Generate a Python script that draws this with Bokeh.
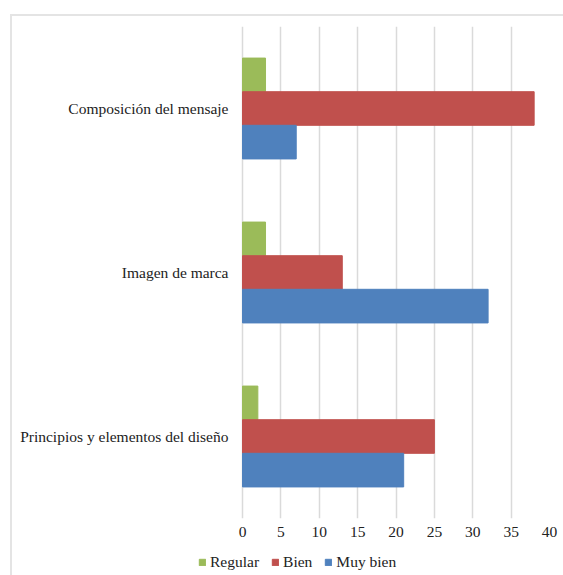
from bokeh.plotting import figure
from bokeh.layouts import column
from bokeh.core.properties import value
from bokeh.models import ColumnDataSource, FactorRange, Range1d, FixedTicker, Legend, LegendItem
from bokeh.transform import dodge
from bokeh.embed import file_html
from bokeh.resources import INLINE

categories = ["Principios y elementos del diseño", "Imagen de marca", "Composición del mensaje"]
regular = [2, 3, 3]
bien = [25, 13, 38]
muy_bien = [21, 32, 7]
series_names = ["Regular", "Bien", "Muy bien"]
x_ticks = [0, 5, 10, 15, 20, 25, 30, 35, 40]

colors = ["#9BBB59", "#C0504D", "#4F81BD"]
FONT = "Liberation Serif"
TXT = "#222222"

# frame spans the whole width; the category label gutter sits left of value 0
FRAME_W = 537
ZERO_PX = 230
x_max = 40
x_min = -ZERO_PX * x_max / (FRAME_W - ZERO_PX)

src = ColumnDataSource(dict(cat=categories, regular=regular, bien=bien, muy_bien=muy_bien,
                            zero=[0] * len(categories)))

p = figure(width=551, height=532, output_backend="svg", toolbar_location=None,
           y_range=FactorRange(factors=categories, range_padding=0),
           x_range=Range1d(x_min, x_max), y_axis_type=None,
           min_border_left=0, min_border_right=14, min_border_top=10, min_border_bottom=30)
p.outline_line_color = None
p.background_fill_color = "white"
p.border_fill_color = "white"

h = 0.205
p.hbar(y=dodge("cat", h, range=p.y_range), right="regular", left=0, height=h, source=src,
       fill_color=colors[0], line_color=colors[0])
p.hbar(y=dodge("cat", 0, range=p.y_range), right="bien", left=0, height=h, source=src,
       fill_color=colors[1], line_color=colors[1])
p.hbar(y=dodge("cat", -h, range=p.y_range), right="muy_bien", left=0, height=h, source=src,
       fill_color=colors[2], line_color=colors[2])

# category labels
p.text(x="zero", y="cat", text="cat", source=src, x_offset=-14,
       text_align="right", text_baseline="middle",
       text_font=value(FONT), text_font_size="15.5px", text_color=TXT)

p.xaxis.ticker = FixedTicker(ticks=x_ticks)
ax = p.xaxis[0]
ax.axis_line_color = None
ax.major_tick_line_color = None
ax.minor_tick_line_color = None
ax.major_tick_out = 0
ax.major_tick_in = 0
ax.major_label_text_font = FONT
ax.major_label_text_font_size = "15.5px"
ax.major_label_text_color = TXT
ax.major_label_standoff = 8
p.xgrid.grid_line_color = "#dadada"
p.xgrid.grid_line_width = 1.5
p.ygrid.grid_line_color = None

# legend strip
lf = figure(width=551, height=27, output_backend="svg", toolbar_location=None,
            x_range=Range1d(0, 1), y_range=Range1d(0, 1),
            x_axis_type=None, y_axis_type=None,
            min_border_left=0, min_border_right=14, min_border_top=0, min_border_bottom=0)
lf.outline_line_color = None
lf.grid.grid_line_color = None
lr = [lf.hbar(y=[-100], right=[0], height=1, fill_color=c, line_color=c) for c in colors]
legend = Legend(items=[LegendItem(label=n, renderers=[r]) for n, r in zip(series_names, lr)],
                orientation="horizontal", location=(186, 4),
                padding=0, margin=0, spacing=12,
                glyph_width=8, glyph_height=8, label_standoff=4,
                label_text_font=FONT, label_text_font_size="15.5px", label_text_color=TXT,
                label_height=16, background_fill_alpha=0, border_line_color=None)
lf.add_layout(legend, "center")

layout = column(p, lf, spacing=0,
                styles={"margin-left": "10px", "margin-top": "14px",
                        "border-left": "2px solid #e4e4e4", "border-top": "2px solid #e4e4e4"})

open("out.html", "w").write(file_html(layout, INLINE))
